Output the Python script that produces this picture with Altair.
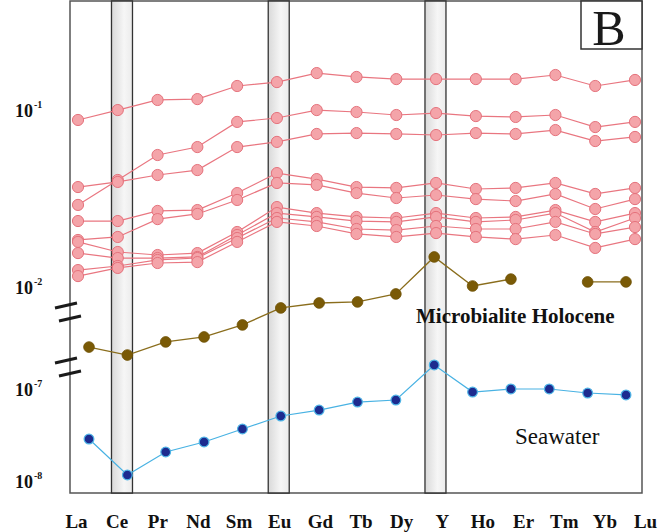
import altair as alt
import pandas as pd

# REE + Y sequence along the x axis
elements = ["La", "Ce", "Pr", "Nd", "Sm", "Eu", "Gd", "Tb", "Dy", "Y",
            "Ho", "Er", "Tm", "Yb", "Lu"]

# Elements with anomalies, highlighted by shaded columns
anomaly_elements = ["Ce", "Eu", "Y"]

# log10 of the normalised concentrations, one list per sample
sample_1 = [-1.045, -0.989, -0.932, -0.927, -0.853, -0.831, -0.780, -0.802,
            -0.814, -0.814, -0.814, -0.814, -0.791, -0.853, -0.819]
sample_2 = [-1.525, -1.384, -1.243, -1.198, -1.056, -1.034, -0.989, -1.000,
            -1.017, -1.006, -1.023, -1.028, -1.017, -1.085, -1.056]
sample_3 = [-1.424, -1.395, -1.356, -1.328, -1.198, -1.169, -1.124, -1.119,
            -1.124, -1.130, -1.119, -1.124, -1.102, -1.164, -1.141]
sample_4 = [-1.616, -1.616, -1.559, -1.554, -1.458, -1.345, -1.379, -1.424,
            -1.429, -1.401, -1.435, -1.429, -1.401, -1.463, -1.429]
sample_5 = [-1.723, -1.706, -1.605, -1.576, -1.497, -1.401, -1.412, -1.458,
            -1.486, -1.469, -1.492, -1.503, -1.463, -1.548, -1.492]
sample_6 = [-1.734, -1.791, -1.808, -1.797, -1.678, -1.537, -1.571, -1.593,
            -1.599, -1.571, -1.599, -1.593, -1.554, -1.621, -1.571]
sample_7 = [-1.797, -1.825, -1.825, -1.819, -1.695, -1.571, -1.593, -1.616,
            -1.621, -1.593, -1.621, -1.610, -1.571, -1.678, -1.599]
sample_8 = [-1.893, -1.870, -1.836, -1.825, -1.712, -1.599, -1.621, -1.661,
            -1.667, -1.644, -1.661, -1.661, -1.621, -1.689, -1.650]
sample_9 = [-1.927, -1.881, -1.853, -1.848, -1.734, -1.621, -1.644, -1.689,
            -1.706, -1.684, -1.706, -1.718, -1.695, -1.768, -1.718]

# Holocene microbialite reference (no Tm value)
microbialite = [-2.328, -2.373, -2.299, -2.271, -2.203, -2.107, -2.079, -2.073,
                -2.028, -1.819, -1.983, -1.944, None, -1.960, -1.960]

# Modern seawater reference
seawater = [-7.522, -7.913, -7.663, -7.554, -7.413, -7.272, -7.207, -7.120,
            -7.098, -6.717, -7.011, -6.978, -6.978, -7.022, -7.043]

samples = [sample_1, sample_2, sample_3, sample_4, sample_5,
           sample_6, sample_7, sample_8, sample_9]

# Tick exponents for the two segments of the broken y axis
upper_ticks = [-1, -2]
lower_ticks = [-7, -8]

# ---- tables -------------------------------------------------------------
rows = []
for s, vals in enumerate(samples, start=1):
    for i, (el, v) in enumerate(zip(elements, vals)):
        rows.append({"sample": f"sample {s}", "element": el, "idx": i, "logc": v})
samples_df = pd.DataFrame(rows)

micro_rows = []
seg = 0
for i, (el, v) in enumerate(zip(elements, microbialite)):
    if v is None:
        seg += 1
        continue
    micro_rows.append({"element": el, "idx": i, "logc": v, "seg": seg})
micro_df = pd.DataFrame(micro_rows)

sea_df = pd.DataFrame({"element": elements, "idx": range(len(elements)),
                       "logc": seawater})
band_df = pd.DataFrame({"element": anomaly_elements})
axis_df = pd.DataFrame({"element": elements})
single = pd.DataFrame({"k": [0]})  # one row for one-off annotations
upper_df = pd.DataFrame({"v": upper_ticks, "base": "10",
                         "exp": [str(t) for t in upper_ticks]})
lower_df = pd.DataFrame({"v": lower_ticks, "base": "10",
                         "exp": [str(t) for t in lower_ticks]})

W, H = 572, 492
SERIF = "Liberation Serif"


def xscale(lo, hi):
    return alt.Scale(type="point", domain=elements, range=[lo, hi], padding=0)


upper_y = alt.Scale(domain=[-2, -1], range=[288, 111])
lower_y = alt.Scale(domain=[-8, -7], range=[482, 390])

# ---- shaded anomaly columns ---------------------------------------------
gradient = alt.Gradient(
    gradient="linear", x1=0, x2=1, y1=0, y2=0,
    stops=[alt.GradientStop(color="#d9d9d9", offset=0),
           alt.GradientStop(color="#f6f6f6", offset=0.6),
           alt.GradientStop(color="#ebebeb", offset=1)])
bands = alt.Chart(band_df).mark_bar(
    size=21, fill=gradient, stroke="#333333", strokeWidth=1.3
).encode(
    x=alt.X("element:N", scale=xscale(12.8, 561.4), axis=None),
    y=alt.value(0), y2=alt.value(H),
)

# ---- category axis ------------------------------------------------------
x_axis = alt.Chart(axis_df).mark_point(opacity=0).encode(
    x=alt.X("element:N", scale=xscale(6, 575), title=None,
            axis=alt.Axis(labelFont=SERIF, labelFontWeight="bold",
                          labelFontSize=19, labelColor="#111111",
                          labelAngle=0, labelPadding=34, labelBaseline="alphabetic",
                          ticks=False, tickSize=0, domain=False, grid=False)),
)

# ---- sample profiles ----------------------------------------------------
pink_x = alt.X("element:N", scale=xscale(8, 565), axis=None)
pink_y = alt.Y("logc:Q", scale=upper_y, axis=None)
pink_lines = alt.Chart(samples_df).mark_line(
    color="#e97680", strokeWidth=1.2).encode(
    x=pink_x, y=pink_y, detail="sample:N", order=alt.Order("idx:Q"))
pink_pts = alt.Chart(samples_df).mark_point(
    filled=True, fill="#f4a4a9", stroke="#e5727c", strokeWidth=1,
    size=125, opacity=1).encode(x=pink_x, y=pink_y, detail="sample:N")

# ---- microbialite reference ---------------------------------------------
micro_x = alt.X("element:N", scale=xscale(19, 556), axis=None)
micro_y = alt.Y("logc:Q", scale=upper_y, axis=None)
micro_line = alt.Chart(micro_df).mark_line(
    color="#8a6d1c", strokeWidth=1.3).encode(
    x=micro_x, y=micro_y, detail="seg:N", order=alt.Order("idx:Q"))
micro_pts = alt.Chart(micro_df).mark_point(
    filled=True, fill="#7a5a06", stroke="#6e5205", strokeWidth=0.8,
    size=115, opacity=1).encode(x=micro_x, y=micro_y)

# ---- seawater reference -------------------------------------------------
sea_x = alt.X("element:N", scale=xscale(19, 556), axis=None)
sea_y = alt.Y("logc:Q", scale=lower_y, axis=None)
sea_line = alt.Chart(sea_df).mark_line(
    color="#48b2e3", strokeWidth=1.2).encode(
    x=sea_x, y=sea_y, order=alt.Order("idx:Q"))
sea_pts = alt.Chart(sea_df).mark_point(
    filled=True, fill="#1d2b8f", stroke="#4fb4e6", strokeWidth=1.2,
    size=95, opacity=1).encode(x=sea_x, y=sea_y)


# ---- y tick labels (10 with superscript exponent) ------------------------
def tick_labels(df, scale):
    base = alt.Chart(df).mark_text(
        font=SERIF, fontWeight="bold", fontSize=18, color="#111111",
        align="right", baseline="middle").encode(
        x=alt.value(-37), y=alt.Y("v:Q", scale=scale, axis=None), text="base:N")
    exp = alt.Chart(df).mark_text(
        font=SERIF, fontWeight="bold", fontSize=10, color="#111111",
        align="left", baseline="middle", dy=-7).encode(
        x=alt.value(-36), y=alt.Y("v:Q", scale=scale, axis=None), text="exp:N")
    return base + exp


# ---- axis break marks -----------------------------------------------------
def slash(x0, y0, x1, y1):
    return alt.Chart(single).mark_rule(
        color="#1a1a1a", strokeWidth=3).encode(
        x=alt.value(x0), y=alt.value(y0), x2=alt.value(x1), y2=alt.value(y1))


breaks = (slash(-15, 307, 7, 302) + slash(-11, 320, 11, 315)
          + slash(-15, 362, 7, 357) + slash(-11, 375, 11, 370))

# ---- panel letter and series captions -------------------------------------
panel_box = alt.Chart(single).mark_rect(
    fill="white", stroke="#333333", strokeWidth=1.5).encode(
    x=alt.value(511), x2=alt.value(W), y=alt.value(0), y2=alt.value(48))
panel_letter = alt.Chart(single).mark_text(
    font=SERIF, fontSize=50, color="#1a1a1a", align="center",
    baseline="alphabetic", text="B").encode(
    x=alt.value(539), y=alt.value(44))
micro_caption = alt.Chart(single).mark_text(
    font=SERIF, fontWeight="bold", fontSize=21, color="#111111",
    align="left", baseline="alphabetic", text="Microbialite Holocene").encode(
    x=alt.value(346), y=alt.value(322))
sea_caption = alt.Chart(single).mark_text(
    font=SERIF, fontSize=23, color="#111111",
    align="left", baseline="alphabetic", text="Seawater").encode(
    x=alt.value(445), y=alt.value(443))

chart = alt.layer(
    bands, x_axis, pink_lines, pink_pts, micro_line, micro_pts,
    sea_line, sea_pts,
    tick_labels(upper_df, upper_y), tick_labels(lower_df, lower_y),
    breaks, panel_box, panel_letter, micro_caption, sea_caption,
).resolve_scale(
    x="independent", y="independent"
).properties(
    width=W, height=H,
    padding={"left": 70, "top": 1, "right": 16, "bottom": 39},
    autosize=alt.AutoSizeParams(type="none"),
    background="white",
).configure_view(
    stroke="#555555", strokeWidth=1.5
)

chart.save("out.html", embed_options={"renderer": "svg", "actions": False})
